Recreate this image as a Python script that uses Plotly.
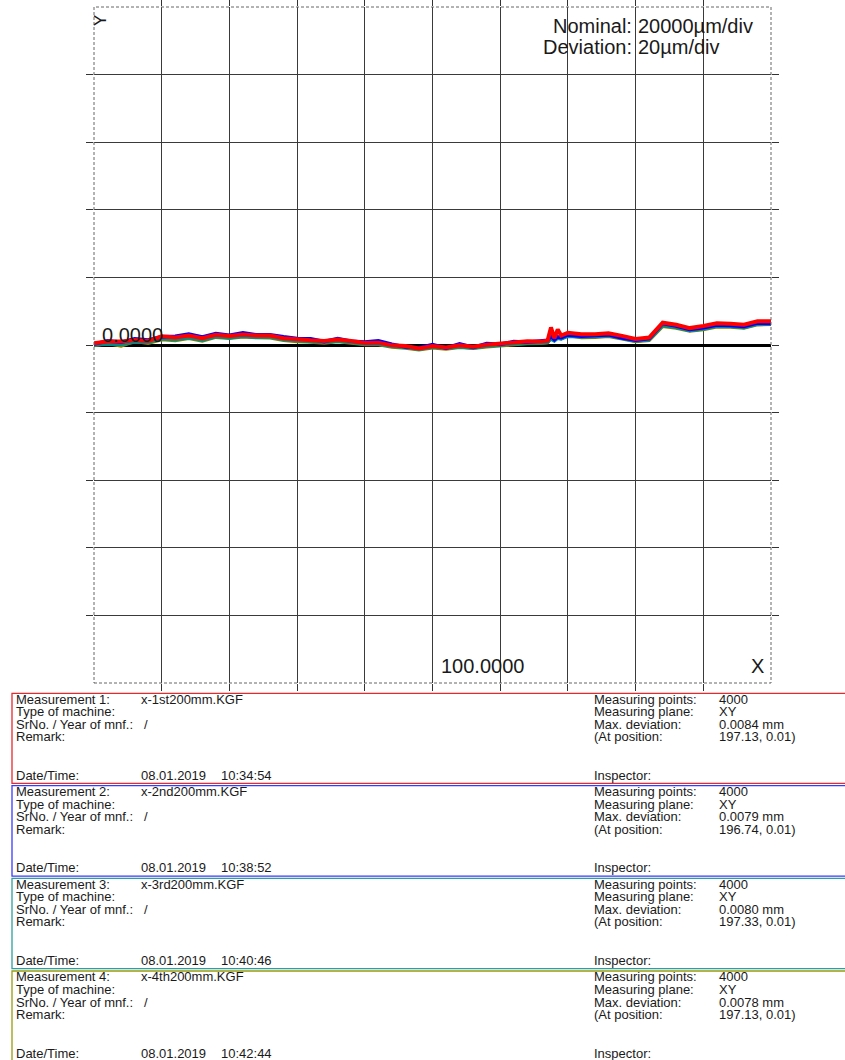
import plotly.graph_objects as go

# ---------------- data (deviation in µm vs. position in mm) ----------------
x_mm = [0, 4, 8, 12, 16, 20, 24, 28, 32, 36, 40, 44, 48, 52, 56, 60, 64, 68, 72, 76,
        80, 84, 88, 92, 96, 100, 104, 108, 112, 116, 120, 124, 128, 132, 134, 135,
        136, 137, 138, 140, 144, 148, 152, 156, 160, 164, 168, 172, 176, 180, 184,
        188, 192, 196, 200]

dev_m1 = [0.5, 1.0, 1.0, 1.5, 1.2, 2.6, 2.2, 2.8, 2.0, 3.0, 2.7, 3.1, 2.8, 2.8, 2.0, 1.6,
          1.4, 1.2, 1.6, 1.2, 0.6, 0.7, -0.1, -0.3, -1.0, -0.3, -0.7, -0.1, -0.5, 0.1,
          0.4, 0.7, 1.1, 1.0, 1.3, 5.2, 2.0, 4.6, 2.8, 3.6, 3.2, 3.2, 3.5, 2.7, 1.8, 2.2,
          6.6, 6.0, 5.0, 5.6, 6.4, 6.3, 6.0, 7.0, 7.0]
dev_m2 = [0.3, 1.2, 0.8, 1.8, 1.5, 2.4, 2.6, 3.2, 2.4, 3.4, 2.9, 3.6, 3.0, 3.0, 2.4, 1.9,
          1.8, 1.0, 1.9, 1.1, 0.9, 1.2, 0.2, -0.6, -0.8, 0.1, -0.9, 0.3, -0.7, 0.4,
          0.2, 1.0, 0.8, 1.3, 1.4, 2.6, 1.6, 2.4, 2.2, 3.0, 2.6, 2.8, 3.0, 2.1, 1.4, 1.9,
          6.4, 5.6, 4.6, 5.1, 5.9, 5.8, 5.5, 6.5, 6.4]
dev_m3 = [0.0, 0.3, 0.2, 0.9, 0.8, 1.9, 1.6, 2.2, 1.5, 2.5, 2.1, 2.6, 2.3, 2.4, 1.6, 1.2,
          1.0, 0.8, 1.2, 0.8, 0.2, 0.3, -0.4, -0.7, -1.3, -0.6, -1.0, -0.5, -0.9, -0.3,
          0.0, 0.3, 0.6, 0.6, 0.8, 1.8, 1.2, 2.0, 1.8, 2.6, 2.4, 2.5, 2.8, 2.0, 1.2, 1.6,
          5.8, 5.2, 4.3, 4.8, 5.6, 5.5, 5.2, 6.2, 6.3]
dev_m4 = [-0.2, 0.5, -0.3, 1.1, 0.5, 1.6, 1.3, 2.0, 1.2, 2.3, 2.0, 2.4, 2.2, 2.1, 1.4, 1.0,
          0.9, 0.6, 1.0, 0.6, 0.1, 0.1, -0.6, -0.9, -1.4, -0.8, -1.2, -0.7, -1.0, -0.5,
          -0.2, 0.2, 0.4, 0.5, 0.7, 2.2, 1.4, 2.3, 1.9, 2.8, 2.2, 2.3, 2.6, 1.8, 1.0, 1.4,
          5.5, 5.0, 4.1, 4.6, 5.4, 5.3, 5.0, 6.0, 6.1]

x_grid = [20, 40, 60, 80, 100, 120, 140, 160, 180]
y_grid = [-80, -60, -40, -20, 0, 20, 40, 60, 80]

files = ["x-1st200mm.KGF", "x-2nd200mm.KGF", "x-3rd200mm.KGF", "x-4th200mm.KGF"]
dates = ["08.01.2019", "08.01.2019", "08.01.2019", "08.01.2019"]
times = ["10:34:54", "10:38:52", "10:40:46", "10:42:44"]
points = ["4000", "4000", "4000", "4000"]
planes = ["XY", "XY", "XY", "XY"]
max_dev = ["0.0084 mm", "0.0079 mm", "0.0080 mm", "0.0078 mm"]
at_pos = ["197.13, 0.01)", "196.74, 0.01)", "197.33, 0.01)", "197.13, 0.01)"]

line_colors = ["#ff0000", "#0000ff", "#008b8b", "#808000"]
line_widths = [4, 3.6, 3.4, 3.4]
box_colors = ["#e8282c", "#3a3aff", "#2e9f9f", "#9a9a10"]

# ---------------- figure ----------------
W, H = 845, 1060
L, R, T, B = 94, 771, 7, 683

def px(xp):
    return (xp - L) / (R - L)

def py(yp):
    return (B - yp) / (B - T)

fig = go.Figure()
series = [dev_m1, dev_m2, dev_m3, dev_m4]
for i in [3, 2, 1, 0]:
    fig.add_trace(go.Scatter(x=x_mm, y=series[i], mode="lines",
                             line=dict(color=line_colors[i], width=line_widths[i]),
                             hoverinfo="skip"))

axis_common = dict(showticklabels=False, ticks="outside", ticklen=7, tickcolor="#333",
                   tickwidth=1, mirror="ticks", showgrid=True, gridcolor="#3a3a3a",
                   gridwidth=1, showline=False)

fig.update_layout(
    width=W, height=H,
    margin=dict(l=L, r=W - R, t=T, b=H - B, pad=0),
    paper_bgcolor="white", plot_bgcolor="white",
    showlegend=False,
    xaxis=dict(range=[0, 200], tickvals=x_grid, zeroline=False, **axis_common),
    yaxis=dict(range=[-100, 100], tickvals=y_grid, zeroline=True, zerolinecolor="black",
               zerolinewidth=2.5, **axis_common),
    font=dict(family="Liberation Sans, Arial, sans-serif", color="#1a1a1a"),
)

shapes = []
shapes.append(dict(type="rect", xref="paper", yref="paper", x0=0, x1=1, y0=0, y1=1,
                   line=dict(color="#666", width=1, dash="3px,2px"), layer="above"))

annos = []
big = dict(family="Liberation Sans, Arial, sans-serif", size=20, color="#1a1a1a")
annos.append(dict(text="Y", x=px(101), y=py(21), textangle=-90, font=dict(big, size=17)))
annos.append(dict(text="Nominal:", x=px(634), y=py(26), xanchor="right", font=big))
annos.append(dict(text="20000µm/div", x=px(636), y=py(26), xanchor="left", font=big))
annos.append(dict(text="Deviation:", x=px(634), y=py(47), xanchor="right", font=big))
annos.append(dict(text="20µm/div", x=px(636), y=py(47), xanchor="left", font=big))
annos.append(dict(text="0.0000", x=px(100), y=py(335), xanchor="left", font=big))
annos.append(dict(text="100.0000", x=px(439), y=py(666), xanchor="left", font=big))
annos.append(dict(text="X", x=px(749), y=py(666), xanchor="left", font=big))

small = dict(family="Liberation Sans, Arial, sans-serif", size=13, color="#1a1a1a")
box_tops = [693.3, 785.7, 878.3, 971.0]
box_bots = [783.3, 876.2, 968.7, 1062]
for i in range(4):
    t0 = box_tops[i]
    shapes.append(dict(type="rect", xref="paper", yref="paper",
                       x0=px(12), x1=px(847), y0=py(box_bots[i]), y1=py(t0),
                       line=dict(color=box_colors[i], width=1.3)))
    rows = [t0 + 6, t0 + 18.5, t0 + 31, t0 + 43.5, t0 + 82]
    left_lbl = ["Measurement %d:" % (i + 1), "Type of machine:", "SrNo. / Year of mnf.:",
                "Remark:", "Date/Time:"]
    for r, lab in zip(rows, left_lbl):
        annos.append(dict(text=lab, x=px(14), y=py(r), xanchor="left", font=small))
    annos.append(dict(text=files[i], x=px(139), y=py(rows[0]), xanchor="left", font=small))
    annos.append(dict(text="/", x=px(142), y=py(rows[2]), xanchor="left", font=small))
    annos.append(dict(text=dates[i], x=px(139), y=py(rows[4]), xanchor="left", font=small))
    annos.append(dict(text=times[i], x=px(219), y=py(rows[4]), xanchor="left", font=small))
    right_lbl = ["Measuring points:", "Measuring plane:", "Max. deviation:", "(At position:"]
    right_val = [points[i], planes[i], max_dev[i], at_pos[i]]
    for r, lab, val in zip(rows[:4], right_lbl, right_val):
        annos.append(dict(text=lab, x=px(592), y=py(r), xanchor="left", font=small))
        annos.append(dict(text=val, x=px(717), y=py(r), xanchor="left", font=small))
    annos.append(dict(text="Inspector:", x=px(592), y=py(rows[4]), xanchor="left", font=small))

for a in annos:
    a.setdefault("xanchor", "center")
    a.update(xref="paper", yref="paper", yanchor="middle", showarrow=False)

fig.update_layout(shapes=shapes, annotations=annos)

fig.write_html("out.html", config={"displayModeBar": False},
               post_script="document.body.style.margin='0';document.body.style.overflow='hidden';")
